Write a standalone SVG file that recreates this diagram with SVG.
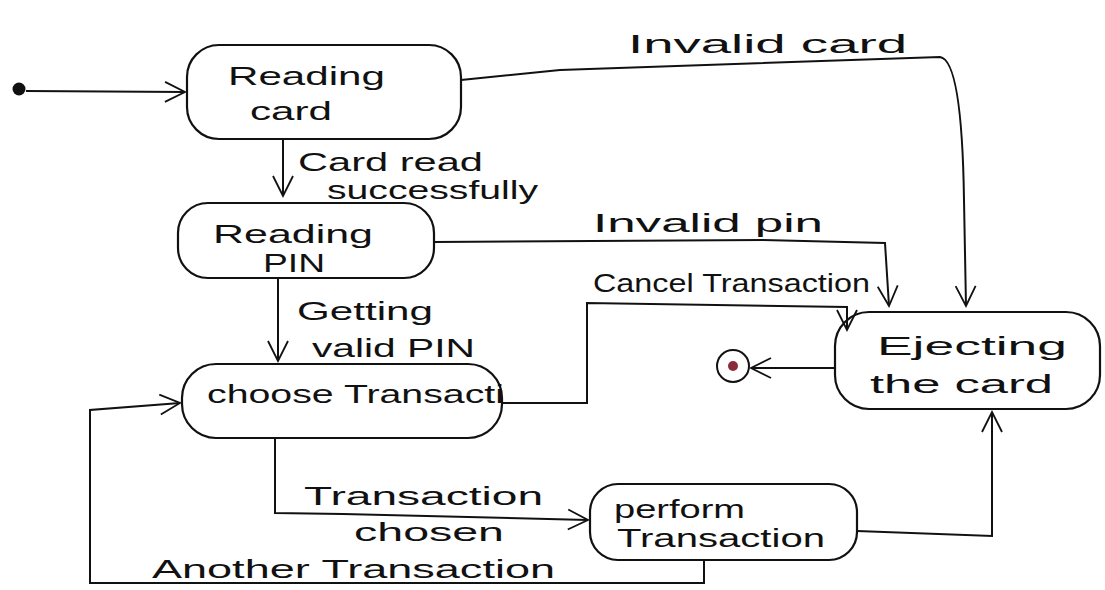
<svg xmlns="http://www.w3.org/2000/svg" width="1105" height="590" viewBox="0 0 1105 590">
<style>
.node rect{fill:none;stroke:#111;stroke-width:2.2}
.lbl{font-family:"Liberation Sans",sans-serif;font-size:26px;fill:#111}
.edge{fill:none;stroke:#111;stroke-width:2}
</style>
<defs>
<marker id="arr" viewBox="0 0 24 24" refX="22" refY="12" markerWidth="24" markerHeight="24" markerUnits="userSpaceOnUse" orient="auto">
<path d="M2,2 L22,12 L2,22" fill="none" stroke="#111" stroke-width="1.8"/>
</marker>
</defs>
<rect width="1105" height="590" fill="#fff"/>
<g id="initial"><circle cx="19" cy="89" r="6.5" fill="#111"/></g>
<g id="reading-card" class="node"><rect x="187" y="45" width="274" height="94" rx="32"/><text class="lbl" x="228" y="85" textLength="157" lengthAdjust="spacingAndGlyphs">Reading</text><text class="lbl" x="250" y="120" textLength="82" lengthAdjust="spacingAndGlyphs">card</text></g>
<g id="reading-pin" class="node"><rect x="178" y="203" width="256" height="75" rx="30"/><text class="lbl" x="213" y="243" textLength="160" lengthAdjust="spacingAndGlyphs">Reading</text><text class="lbl" x="263" y="272" textLength="62" lengthAdjust="spacingAndGlyphs">PIN</text></g>
<g id="choose" class="node"><rect x="182" y="364" width="320" height="74" rx="34"/><text class="lbl" x="207" y="403" textLength="297" lengthAdjust="spacingAndGlyphs">choose Transacti</text></g>
<g id="perform" class="node"><rect x="590" y="484" width="267" height="76" rx="28"/><text class="lbl" x="614" y="518" textLength="131" lengthAdjust="spacingAndGlyphs">perform</text><text class="lbl" x="617" y="547" textLength="208" lengthAdjust="spacingAndGlyphs">Transaction</text></g>
<g id="ejecting" class="node"><rect x="835" y="312" width="265" height="97" rx="34"/><text class="lbl" x="877" y="355" textLength="190" lengthAdjust="spacingAndGlyphs">Ejecting</text><text class="lbl" x="870" y="393" textLength="183" lengthAdjust="spacingAndGlyphs">the card</text></g>
<g id="final"><circle cx="733" cy="366" r="16" fill="none" stroke="#111" stroke-width="2"/><circle cx="733" cy="366" r="5" fill="#8a2a3a"/></g>
<g id="connectors">
<path class="edge" d="M26,91 L185,92" marker-end="url(#arr)"/>
<path class="edge" d="M461,80 L560,70 L940,57 Q962,60 964,200 L966,306" marker-end="url(#arr)"/>
<path class="edge" d="M283,139 L283,196" marker-end="url(#arr)"/>
<path class="edge" d="M434,242 L763,240 L885,243 L889,306" marker-end="url(#arr)"/>
<path class="edge" d="M278,278 L278,361" marker-end="url(#arr)"/>
<path class="edge" d="M502,403 L587,403 L587,303 L847,307 L847,330" marker-end="url(#arr)"/>
<path class="edge" d="M835,368 L751,368" marker-end="url(#arr)"/>
<path class="edge" d="M275,438 L275,513 L343,514 L588,520" marker-end="url(#arr)"/>
<path class="edge" d="M857,531 L992,536 L992,412" marker-end="url(#arr)"/>
<path class="edge" d="M704,560 L704,583 L90,583 L90,410 L180,403" marker-end="url(#arr)"/>
<text class="lbl" x="628" y="53" textLength="279" lengthAdjust="spacingAndGlyphs">Invalid card</text>
<text class="lbl" x="298" y="171" font-size="24" textLength="185" lengthAdjust="spacingAndGlyphs">Card read</text>
<text class="lbl" x="327" y="199" font-size="24" textLength="211" lengthAdjust="spacingAndGlyphs">successfully</text>
<text class="lbl" x="593" y="232" textLength="230" lengthAdjust="spacingAndGlyphs">Invalid pin</text>
<text class="lbl" x="297" y="320" textLength="136" lengthAdjust="spacingAndGlyphs">Getting</text>
<text class="lbl" x="312" y="357" textLength="163" lengthAdjust="spacingAndGlyphs">valid PIN</text>
<text class="lbl" x="593" y="292" font-size="22" textLength="277" lengthAdjust="spacingAndGlyphs">Cancel Transaction</text>
<text class="lbl" x="304" y="505" textLength="239" lengthAdjust="spacingAndGlyphs">Transaction</text>
<text class="lbl" x="354" y="541" font-size="22" textLength="150" lengthAdjust="spacingAndGlyphs">chosen</text>
<text class="lbl" x="152" y="578" textLength="403" lengthAdjust="spacingAndGlyphs">Another Transaction</text>
</g>
</svg>
